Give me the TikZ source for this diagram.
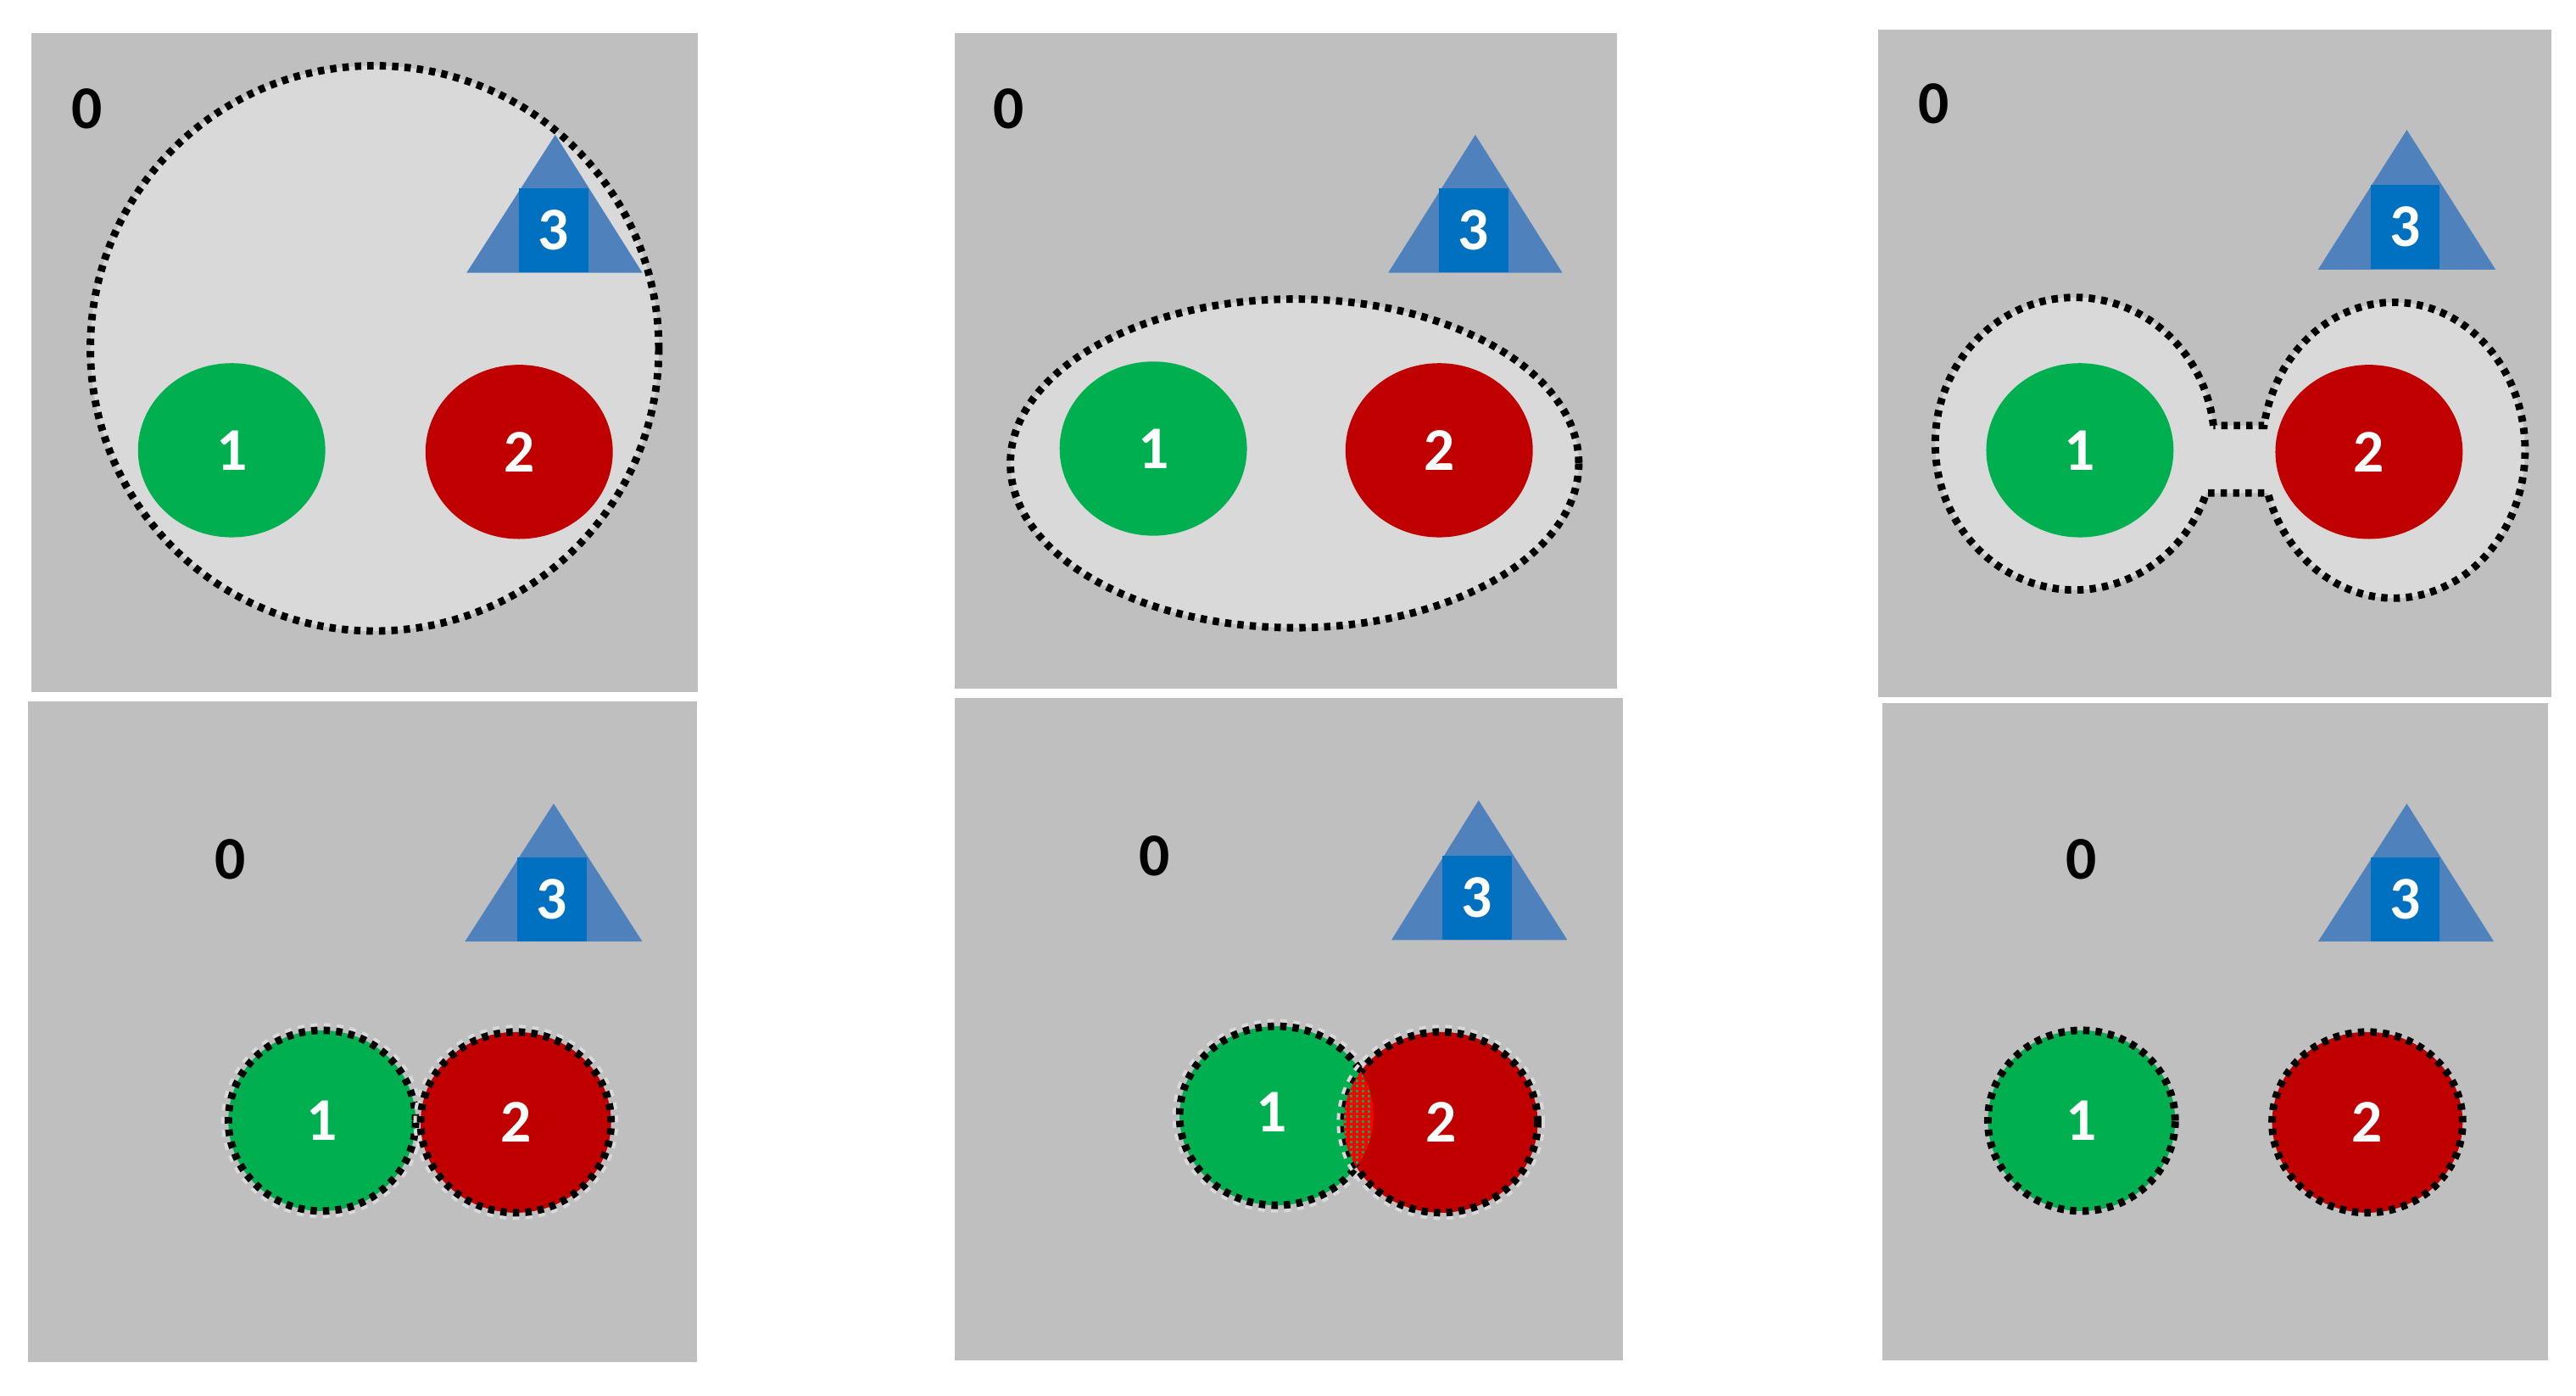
\documentclass[tikz,border=0pt]{standalone}
\usepackage{fontspec}
\setmainfont{Carlito}
\usetikzlibrary{shapes.geometric,patterns}
\definecolor{panel}{HTML}{BFBFBF}
\definecolor{halo}{HTML}{D9D9D9}
\definecolor{grn}{HTML}{00B050}
\definecolor{rd}{HTML}{C00000}
\definecolor{tri}{HTML}{4F81BD}
\definecolor{sqblue}{HTML}{0070C0}
\pgfdeclarepatternformonly{lensdots}{\pgfpointorigin}{\pgfpoint{1.9pt}{1.9pt}}{\pgfpoint{1.9pt}{1.9pt}}
  {\pgfpathrectangle{\pgfpointorigin}{\pgfpoint{0.9pt}{0.9pt}}\pgfusepath{fill}}
\tikzset{
  disk/.style={ellipse,inner sep=0pt,minimum width=22.8mm,minimum height=21.2mm,
    text=white,font=\fontsize{21}{25}\selectfont\bfseries},
  sqbox/.style={rectangle,fill=sqblue,inner sep=0pt,minimum width=8.4mm,minimum height=10.2mm,
    text=white,font=\fontsize{21}{25}\selectfont\bfseries},
  zero/.style={font=\fontsize{21}{25}\selectfont\bfseries},
  dotline/.style={draw=black,line width=2.6pt,dash pattern=on 2.2pt off 2.1pt},
  ring/.style={dotline,preaction={draw=halo,line width=5pt}},
}
\begin{document}
\begin{tikzpicture}[x=0.2mm,y=-0.2mm]
\useasboundingbox (0,0) rectangle (1568,849.5);
\fill [white] (0,0) rectangle (1568,849.5);

% panels
\fill [panel] (19,20) rectangle (425,421);
\fill [panel] (581,20) rectangle (984,419);
\fill [panel] (1143,18) rectangle (1553,424);
\fill [panel] (17,427) rectangle (424,829);
\fill [panel] (581,425) rectangle (988,828);
\fill [panel] (1146,428) rectangle (1551,828);

% top left
\fill [halo] (228,212) ellipse [x radius=173, y radius=172];
\draw [dotline] (228,212) ellipse [x radius=173, y radius=172];
\node [zero] (a0) at (53,66) {0};
\fill [tri] (338,82) -- (391,166) -- (284,166) -- cycle;
\node [sqbox,anchor=south] (a3) at (337,166) {3};
\node [disk,fill=grn] (a1) at (141,274) {1};
\node [disk,fill=rd] (a2) at (316,275) {2};

% top middle
\fill [halo] (788,282) ellipse [x radius=173, y radius=100];
\draw [dotline] (788,282) ellipse [x radius=173, y radius=100];
\node [zero] (b0) at (614,66) {0};
\fill [tri] (898,82) -- (951,166) -- (845,166) -- cycle;
\node [sqbox,anchor=south] (b3) at (897,166) {3};
\node [disk,fill=grn] (b1) at (702,273) {1};
\node [disk,fill=rd] (b2) at (876,274) {2};

% top right
\fill [halo] (1347.3,259) arc [start angle=-7.1, end angle=-340.3, x radius=85, y radius=89]
  -- (1380.4,300) arc [start angle=163.2, end angle=-170.4, x radius=80, y radius=90] -- cycle;
\draw [dotline] (1347.3,259) arc [start angle=-7.1, end angle=-340.3, x radius=85, y radius=89]
  -- (1380.4,300) arc [start angle=163.2, end angle=-170.4, x radius=80, y radius=90] -- cycle;
\node [zero] (c0) at (1177,63) {0};
\fill [tri] (1465,79) -- (1519,164) -- (1411,164) -- cycle;
\node [sqbox,anchor=south] (c3) at (1464,164) {3};
\node [disk,fill=grn] (c1) at (1266,274) {1};
\node [disk,fill=rd] (c2) at (1442,275) {2};

% bottom left
\node [zero] (d0) at (140,523) {0};
\fill [tri] (337,489) -- (391,573) -- (283,573) -- cycle;
\node [sqbox,anchor=south] (d3) at (336,573) {3};
\node [disk,fill=grn,minimum height=22mm,ring] (d1) at (196,682) {1};
\node [disk,fill=rd,minimum width=23.2mm,minimum height=22mm,ring] (d2) at (314,683) {2};

% bottom middle
\node [zero] (e0) at (703,521) {0};
\fill [tri] (900,487) -- (954,572) -- (847,572) -- cycle;
\node [sqbox,anchor=south] (e3) at (899,572) {3};
\node [disk,fill=grn,minimum width=23.6mm,minimum height=21.8mm,ring] (e1) at (777,679) {};
\node [disk,fill=rd,minimum width=23.6mm,minimum height=22mm,ring] (e2) at (877,683) {2};
\begin{scope}
\clip (e1.center) ellipse [x radius=59, y radius=54.5];
\fill [red] (e2.center) ellipse [x radius=59, y radius=55];
\fill [pattern=lensdots,pattern color=grn] (e2.center) ellipse [x radius=59, y radius=55];
\end{scope}
\node [text=white,font=\fontsize{21}{25}\selectfont\bfseries] (e1t) at (774,677) {1};

% bottom right
\node [zero] (f0) at (1267,523) {0};
\fill [tri] (1465,489) -- (1518,573) -- (1411,573) -- cycle;
\node [sqbox,anchor=south] (f3) at (1464,573) {3};
\node [disk,fill=grn,minimum height=22mm,dotline] (f1) at (1267,682) {1};
\node [disk,fill=rd,minimum width=23.2mm,minimum height=22mm,dotline] (f2) at (1441,683) {2};
\end{tikzpicture}
\end{document}
